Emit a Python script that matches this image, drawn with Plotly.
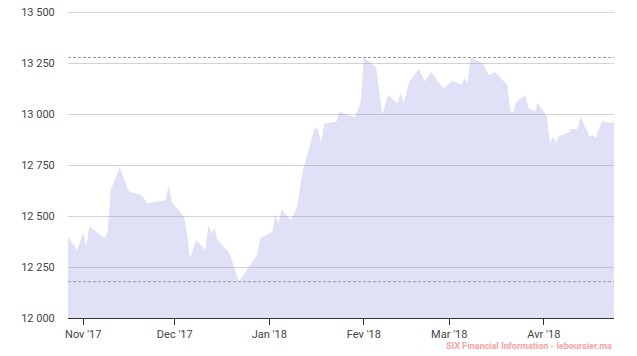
import plotly.graph_objects as go

dates = [
    "2017-10-27", "2017-10-30", "2017-11-01", "2017-11-02", "2017-11-03", "2017-11-08",
    "2017-11-09", "2017-11-10", "2017-11-13", "2017-11-16", "2017-11-20", "2017-11-22",
    "2017-11-27", "2017-11-28", "2017-11-29", "2017-11-30", "2017-12-04", "2017-12-05",
    "2017-12-06", "2017-12-08", "2017-12-11", "2017-12-12", "2017-12-13", "2017-12-14",
    "2017-12-15", "2017-12-19", "2017-12-22", "2017-12-26", "2017-12-28", "2017-12-29",
    "2018-01-02", "2018-01-03", "2018-01-04", "2018-01-05", "2018-01-08", "2018-01-10",
    "2018-01-12", "2018-01-16", "2018-01-17", "2018-01-18", "2018-01-19", "2018-01-23",
    "2018-01-24", "2018-01-29", "2018-01-31", "2018-02-01", "2018-02-05", "2018-02-07",
    "2018-02-09", "2018-02-12", "2018-02-13", "2018-02-14", "2018-02-16", "2018-02-19",
    "2018-02-21", "2018-02-23", "2018-02-27", "2018-03-02", "2018-03-05", "2018-03-06",
    "2018-03-07", "2018-03-08", "2018-03-12", "2018-03-14", "2018-03-16", "2018-03-20",
    "2018-03-21", "2018-03-22", "2018-03-23", "2018-03-26", "2018-03-27", "2018-03-29",
    "2018-03-30", "2018-04-02", "2018-04-03", "2018-04-04", "2018-04-05", "2018-04-06",
    "2018-04-09", "2018-04-10", "2018-04-12", "2018-04-13", "2018-04-16", "2018-04-17",
    "2018-04-18", "2018-04-20", "2018-04-23", "2018-04-24",
]

values = [
    12399, 12333, 12420, 12350, 12448, 12391,
    12423, 12627, 12739, 12619, 12603, 12562,
    12575, 12578, 12652, 12570, 12497, 12415,
    12293, 12382, 12333, 12456, 12415, 12440,
    12382, 12317, 12178, 12268, 12309, 12391,
    12423, 12505, 12464, 12533, 12480, 12538,
    12725, 12935, 12922, 12856, 12954, 12962,
    13011, 12984, 13060, 13277, 13230, 12998,
    13093, 13052, 13103, 13052, 13162, 13220,
    13160, 13207, 13126, 13163, 13144, 13175,
    13152, 13275, 13248, 13189, 13206, 13142,
    13015, 13010, 13060, 13092, 13028, 13011,
    13054, 12988, 12853, 12889, 12858, 12892,
    12908, 12927, 12926, 12987, 12890, 12897,
    12882, 12966, 12956, 12961,
]

tick_dates = ["2017-11-01", "2017-12-01", "2018-01-01", "2018-02-01", "2018-03-01", "2018-04-01"]
tick_labels = ["Nov '17", "Dec '17", "Jan '18", "Fev '18", "Mar '18", "Avr '18"]

y_ticks = [12000, 12250, 12500, 12750, 13000, 13250, 13500]
credit_text = "SIX Financial Information - leboursier.ma"

fig = go.Figure()
fig.add_trace(go.Scatter(
    x=dates, y=values, mode="lines", fill="tozeroy",
    fillcolor="rgba(140,140,220,0.27)",
    line=dict(width=0, color="rgba(140,140,220,0.27)"),
    hoverinfo="x+y", showlegend=False,
))

vmax = max(values)
vmin = min(values)
for v in (vmax, vmin):
    fig.add_shape(type="line", xref="paper", x0=0, x1=1, yref="y", y0=v, y1=v,
                  line=dict(color="#9a9a9a", width=1, dash="3px,2px"), layer="above")

fig.add_annotation(
    text="<b>" + credit_text + "</b>", xref="paper", yref="paper", x=1, y=-0.092,
    xanchor="right", yanchor="middle", showarrow=False,
    font=dict(family="Roboto", size=9, color="#f4a4a4"),
)

fig.update_layout(
    width=637, height=356,
    margin=dict(l=68, r=23, t=11, b=38),
    plot_bgcolor="white", paper_bgcolor="white",
    separators=", ",
    font=dict(family="Roboto", size=11, color="#444"),
    xaxis=dict(
        type="date", range=[dates[0], dates[-1]],
        tickvals=tick_dates, ticktext=tick_labels,
        showgrid=False, showline=True, linecolor="#333", linewidth=1,
        ticks="outside", ticklen=6, tickcolor="#333", tickwidth=1,
        tickfont=dict(size=11, color="#444"), zeroline=False, automargin=False,
    ),
    yaxis=dict(
        range=[12000, 13505], tickvals=y_ticks, tickformat=",d",
        showgrid=True, gridcolor="#d4d4d4", gridwidth=1,
        zeroline=False, showline=False, automargin=False,
        ticks="outside", ticklen=10, tickcolor="rgba(0,0,0,0)",
        tickfont=dict(size=11, color="#444"),
    ),
)

# remove the default 8px page margin so the 637x356 figure fills the window
fig.write_html(
    "out.html",
    config={"displayModeBar": False},
    post_script="document.body.style.margin='0px';document.body.style.overflow='hidden';",
)
